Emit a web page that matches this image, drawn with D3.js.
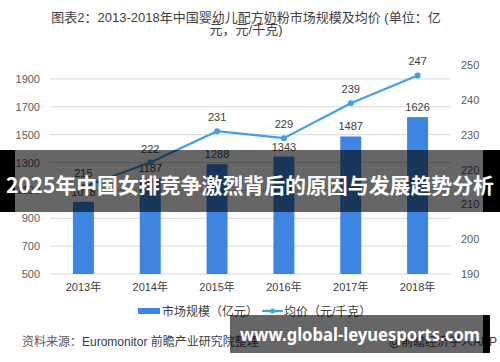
<!DOCTYPE html>
<html>
<head>
<meta charset="utf-8">
<script src="https://cdn.jsdelivr.net/npm/d3@7"></script>
<style>
  body { margin: 0; background: #fff; }
  svg { display: block; font-family: "Liberation Sans", "Noto Sans CJK SC", sans-serif; }
</style>
</head>
<body>
<svg id="chart"></svg>
<script>
const years = ["2013年", "2014年", "2015年", "2016年", "2017年", "2018年"];
const marketSize = [1018, 1187, 1288, 1343, 1487, 1626];
const avgPrice = [215, 222, 231, 229, 239, 247];
const leftTicks = [500, 700, 900, 1100, 1300, 1500, 1700, 1900];
const rightTicks = [190, 200, 210, 220, 230, 240, 250];

const titleLines = ["图表2：2013-2018年中国婴幼儿配方奶粉市场规模及均价 (单位：亿", "元，元/千克)"];
const seriesNames = ["市场规模（亿元）", "均价（元/千克）"];
const bannerText = "2025年中国女排竞争激烈背后的原因与发展趋势分析";
const siteText = "www.global-leyuesports.com";

function drawChart() {
  const width = 500, height = 362;
  const plot = {left: 50, right: 451, top: 65, bottom: 274};
  const barColor = "#3d85e0";
  const lineColor = "#41a0ea";

  const svg = d3.select("#chart")
      .attr("width", width)
      .attr("height", height);

  // title
  svg.append("g").selectAll("text")
    .data(titleLines)
    .join("text")
      .attr("x", 246)
      .attr("y", (d, i) => 22 + i * 12)
      .attr("text-anchor", "middle")
      .attr("font-size", 13)
      .attr("fill", "#404040")
      .text(d => d);

  const x = d3.scaleBand()
      .domain(years)
      .range([plot.left, plot.right])
      .paddingInner(0.686)
      .paddingOuter(0.343);

  const yL = d3.scaleLinear().domain([500, 2000]).range([plot.bottom, plot.top]);
  const yR = d3.scaleLinear().domain([190, 250]).range([plot.bottom, plot.top]);

  // grid
  svg.append("g").selectAll("line")
    .data(leftTicks)
    .join("line")
      .attr("x1", plot.left)
      .attr("x2", plot.right)
      .attr("y1", d => yL(d))
      .attr("y2", d => yL(d))
      .attr("stroke", "#d9d9d9")
      .attr("stroke-width", 1);

  // left axis
  const axL = svg.append("g")
      .attr("transform", `translate(${plot.left - 10},0)`)
      .call(d3.axisLeft(yL).tickValues(leftTicks).tickFormat(d3.format("d")).tickSize(0).tickPadding(0));
  axL.select(".domain").remove();
  axL.selectAll("text").attr("font-size", 11).attr("fill", "#595959")
      .attr("font-family", "Liberation Sans, sans-serif");

  // right axis
  const axR = svg.append("g")
      .attr("transform", `translate(${plot.right + 10},0)`)
      .call(d3.axisRight(yR).tickValues(rightTicks).tickSize(0).tickPadding(0));
  axR.select(".domain").remove();
  axR.selectAll("text").attr("font-size", 11).attr("fill", "#595959")
      .attr("font-family", "Liberation Sans, sans-serif");

  // x axis labels
  const axX = svg.append("g")
      .attr("transform", `translate(0,${plot.bottom})`)
      .call(d3.axisBottom(x).tickSize(0).tickPadding(9));
  axX.select(".domain").remove();
  axX.selectAll("text").attr("font-size", 11).attr("fill", "#404040")
      .attr("font-family", "Liberation Sans, Noto Sans CJK SC, sans-serif");

  // bars
  svg.append("g").selectAll("rect")
    .data(marketSize)
    .join("rect")
      .attr("x", (d, i) => x(years[i]))
      .attr("y", d => yL(d))
      .attr("width", x.bandwidth())
      .attr("height", d => yL(500) - yL(d))
      .attr("fill", barColor);

  svg.append("g").selectAll("text")
    .data(marketSize)
    .join("text")
      .attr("x", (d, i) => x(years[i]) + x.bandwidth() / 2)
      .attr("y", d => yL(d) - 6)
      .attr("text-anchor", "middle")
      .attr("font-size", 11)
      .attr("fill", "#404040")
      .text(d => d);

  // price line
  const cx = i => x(years[i]) + x.bandwidth() / 2;
  const line = d3.line()
      .x((d, i) => cx(i))
      .y(d => yR(d));

  svg.append("path")
      .datum(avgPrice)
      .attr("d", line)
      .attr("fill", "none")
      .attr("stroke", lineColor)
      .attr("stroke-width", 2.2);

  svg.append("g").selectAll("circle")
    .data(avgPrice)
    .join("circle")
      .attr("cx", (d, i) => cx(i))
      .attr("cy", d => yR(d))
      .attr("r", 3)
      .attr("fill", lineColor);

  svg.append("g").selectAll("text")
    .data(avgPrice)
    .join("text")
      .attr("x", (d, i) => cx(i))
      .attr("y", d => yR(d) - 10)
      .attr("text-anchor", "middle")
      .attr("font-size", 11)
      .attr("fill", "#404040")
      .text(d => d);

  // legend
  const lg = svg.append("g").attr("font-size", 12).attr("fill", "#404040");
  lg.append("rect")
      .attr("x", 138).attr("y", 308)
      .attr("width", 22).attr("height", 6)
      .attr("fill", barColor);
  lg.append("text").attr("x", 162).attr("y", 316).attr("fill", "#404040").text(seriesNames[0]);
  lg.append("line")
      .attr("x1", 262).attr("x2", 283)
      .attr("y1", 311).attr("y2", 311)
      .attr("stroke", lineColor).attr("stroke-width", 2.2);
  lg.append("circle").attr("cx", 272.5).attr("cy", 311).attr("r", 2.5).attr("fill", lineColor);
  lg.append("text").attr("x", 284).attr("y", 316).attr("fill", "#404040").text(seriesNames[1]);

  // source
  const src = svg.append("text")
      .attr("x", 22).attr("y", 346)
      .attr("font-size", 12)
      .attr("fill", "#595959");
  src.append("tspan").text("资料来源：");
  src.append("tspan").attr("fill", "#2d3a5a").text("Euromonitor ");
  src.append("tspan").attr("fill", "#404040").text("前瞻产业研究院整理");

  svg.append("text")
      .attr("x", 497).attr("y", 346)
      .attr("text-anchor", "end")
      .attr("font-size", 12)
      .attr("fill", "#404040")
      .text("@前瞻经济学人APP");

  // overlay banner
  const ov = svg.append("g");
  ov.append("rect").attr("x", 0).attr("y", 150).attr("width", 15).attr("height", 62).attr("fill", "#000");
  ov.append("rect").attr("x", 483).attr("y", 150).attr("width", 17).attr("height", 62).attr("fill", "#000");
  ov.append("rect").attr("x", 15).attr("y", 150).attr("width", 468).attr("height", 62).attr("fill", "rgba(0,0,0,0.6)");
  ov.append("text")
      .attr("x", 250).attr("y", 193)
      .attr("text-anchor", "middle")
      .attr("font-family", "Noto Sans CJK SC, sans-serif")
      .attr("font-weight", "bold")
      .attr("font-size", 21)
      .attr("textLength", 488)
      .attr("lengthAdjust", "spacingAndGlyphs")
      .attr("fill", "#fff")
      .text(bannerText);

  // site banner
  ov.append("rect").attr("x", 483).attr("y", 315).attr("width", 7).attr("height", 38).attr("fill", "#000");
  ov.append("rect").attr("x", 230).attr("y", 315).attr("width", 253).attr("height", 38).attr("fill", "rgba(0,0,0,0.6)");
  ov.append("text")
      .attr("x", 360).attr("y", 341)
      .attr("text-anchor", "middle")
      .attr("font-family", "Noto Sans, sans-serif")
      .attr("font-weight", "bold")
      .attr("font-size", 18)
      .attr("textLength", 240)
      .attr("lengthAdjust", "spacingAndGlyphs")
      .attr("fill", "#fff")
      .text(siteText);
}

drawChart();
</script>
</body>
</html>
